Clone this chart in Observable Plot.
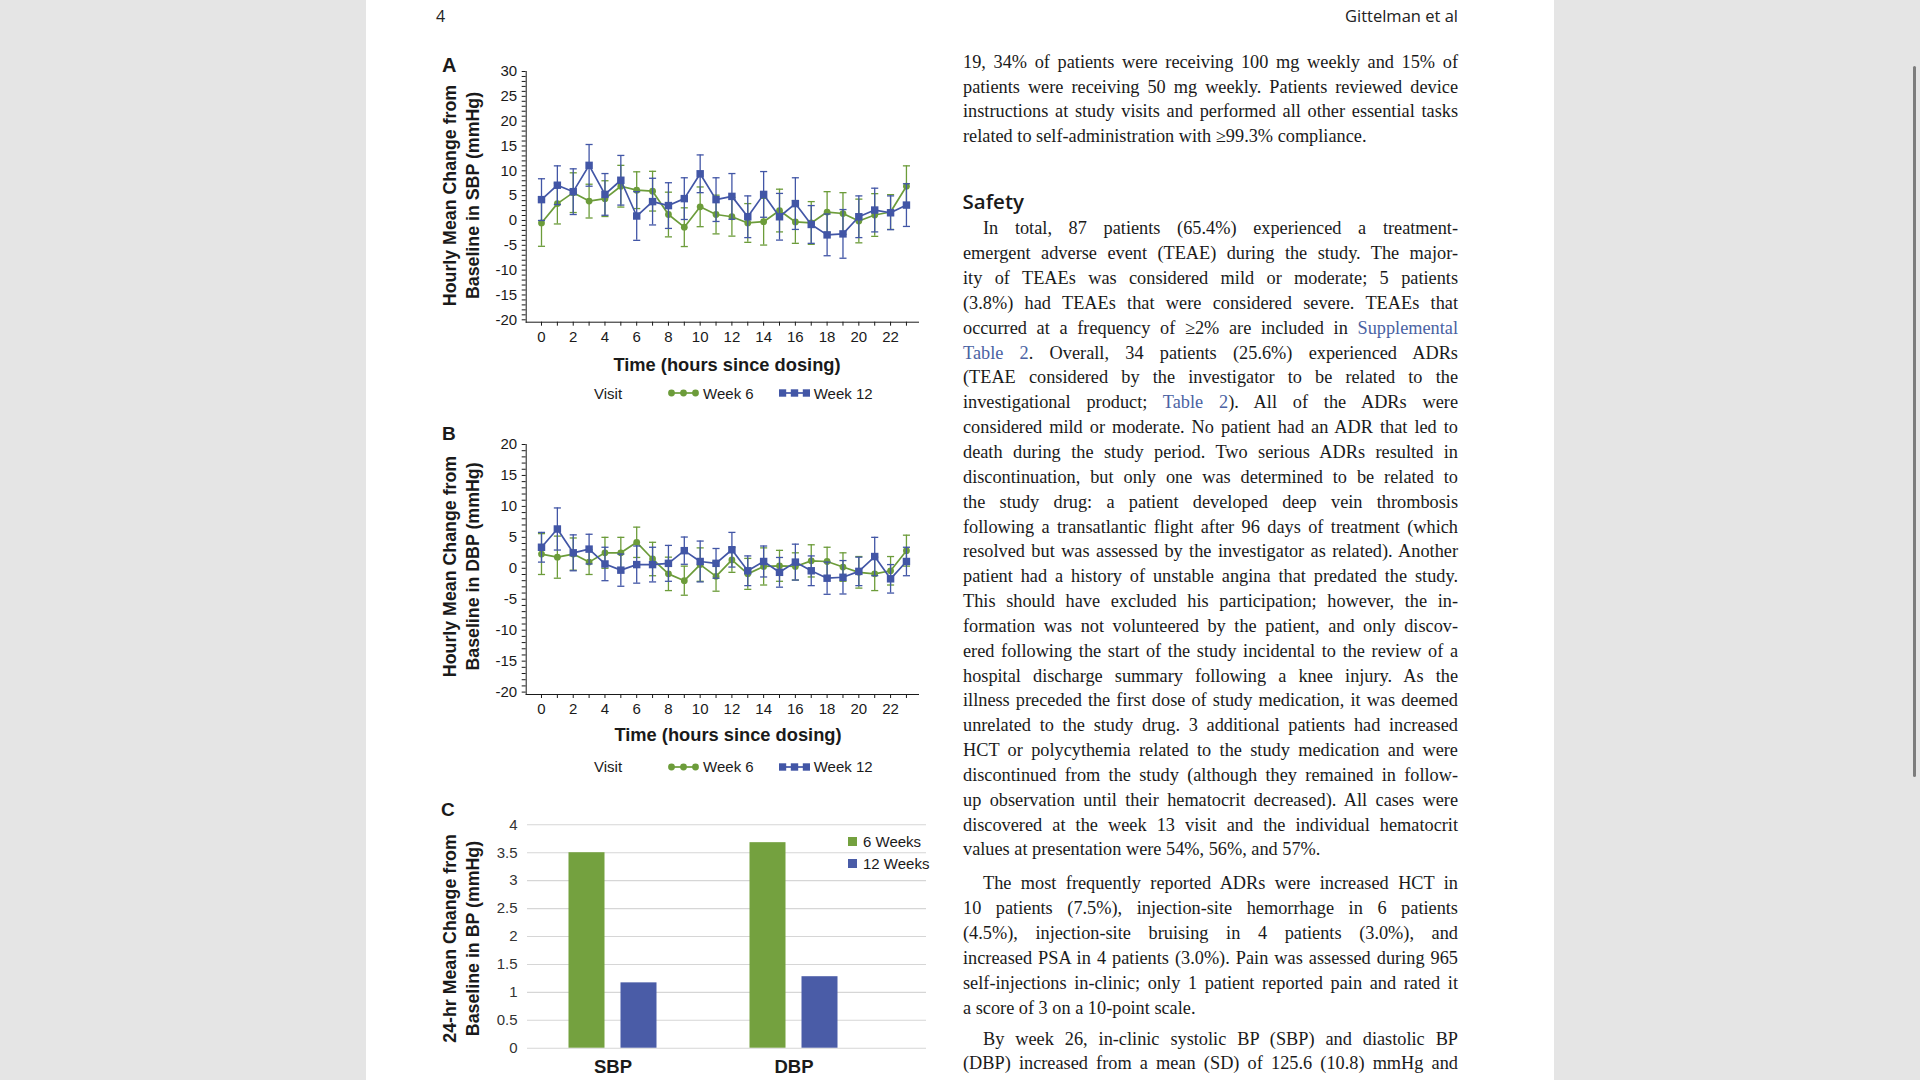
<!DOCTYPE html>
<html>
<head>
<meta charset="utf-8">
<script src="https://cdn.jsdelivr.net/npm/d3@7"></script>
<script src="https://cdn.jsdelivr.net/npm/@observablehq/plot@0.6"></script>
<style>
html,body{margin:0;padding:0;}
body{width:1920px;height:1080px;background:#e5e5e5;position:relative;overflow:hidden;font-family:"Liberation Sans",Arial,sans-serif;color:#1a1a1a;}
#page{position:absolute;left:366px;top:0;width:1188px;height:1080px;background:#fff;}
#scroll{position:absolute;left:1913px;top:66px;width:3px;height:711px;background:#7d7d7d;border-radius:1.5px;}
.abs{position:absolute;white-space:nowrap;line-height:1;}
.hdr{font-family:"Open Sans",sans-serif;color:#222;}
.letter{font-weight:bold;font-size:19px;}
.ytitle{position:absolute;width:300px;height:45px;text-align:center;font-weight:bold;font-size:17.8px;line-height:22.5px;transform:rotate(-90deg);white-space:nowrap;}
.xtitle{position:absolute;width:300px;text-align:center;font-weight:bold;font-size:18.3px;line-height:1;}
.leg{position:absolute;font-size:15px;line-height:1;white-space:nowrap;display:flex;align-items:center;}
.leg svg{display:block;}
.col{position:absolute;left:963px;width:495px;font-family:"Liberation Serif","Times New Roman",serif;font-size:18.3px;line-height:24.85px;color:#1a1a1a;}
.col div{text-align:justify;text-align-last:justify;}
.col div.l{text-align:left;text-align-last:left;}
.col div.i{text-indent:20px;}
.col a{color:#4a62a3;text-decoration:none;}
.plot{position:absolute;}
#cfg svg text{font-weight:bold;font-size:18.5px;}
</style>
</head>
<body>
<div id="page"></div>
<div id="scroll"></div>

<div class="abs hdr" style="left:436px;top:7.5px;font-size:16px;">4</div>
<div class="abs hdr" style="right:462px;top:8px;font-size:16.5px;">Gittelman et al</div>

<div class="abs letter" style="left:442px;top:55px;font-size:20px;">A</div>
<div class="abs letter" style="left:442px;top:424px;">B</div>
<div class="abs letter" style="left:441px;top:800px;">C</div>

<div class="ytitle" style="left:311px;top:172.5px;">Hourly Mean Change from<br>Baseline in SBP (mmHg)</div>
<div class="ytitle" style="left:311px;top:544px;">Hourly Mean Change from<br>Baseline in DBP (mmHg)</div>
<div class="ytitle" style="left:311px;top:916px;">24-hr Mean Change from<br>Baseline in BP (mmHg)</div>

<div class="xtitle" style="left:577px;top:355.5px;">Time (hours since dosing)</div>
<div class="xtitle" style="left:578px;top:725.5px;">Time (hours since dosing)</div>

<div class="col" style="top:49.7px;">
<div>19, 34% of patients were receiving 100 mg weekly and 15% of</div>
<div>patients were receiving 50 mg weekly. Patients reviewed device</div>
<div>instructions at study visits and performed all other essential tasks</div>
<div class="l">related to self-administration with ≥99.3% compliance.</div>
</div>

<div class="abs" style="left:962.5px;top:191px;font-family:'Open Sans',sans-serif;font-weight:600;font-size:20.5px;color:#1a1a1a;">Safety</div>

<div class="col" style="top:216.4px;">
<div class="i">In total, 87 patients (65.4%) experienced a treatment-</div>
<div>emergent adverse event (TEAE) during the study. The major-</div>
<div>ity of TEAEs was considered mild or moderate; 5 patients</div>
<div>(3.8%) had TEAEs that were considered severe. TEAEs that</div>
<div>occurred at a frequency of ≥2% are included in <a>Supplemental</a></div>
<div><a>Table 2</a>. Overall, 34 patients (25.6%) experienced ADRs</div>
<div>(TEAE considered by the investigator to be related to the</div>
<div>investigational product; <a>Table 2</a>). All of the ADRs were</div>
<div>considered mild or moderate. No patient had an ADR that led to</div>
<div>death during the study period. Two serious ADRs resulted in</div>
<div>discontinuation, but only one was determined to be related to</div>
<div>the study drug: a patient developed deep vein thrombosis</div>
<div>following a transatlantic flight after 96 days of treatment (which</div>
<div>resolved but was assessed by the investigator as related). Another</div>
<div>patient had a history of unstable angina that predated the study.</div>
<div>This should have excluded his participation; however, the in-</div>
<div>formation was not volunteered by the patient, and only discov-</div>
<div>ered following the start of the study incidental to the review of a</div>
<div>hospital discharge summary following a knee injury. As the</div>
<div>illness preceded the first dose of study medication, it was deemed</div>
<div>unrelated to the study drug. 3 additional patients had increased</div>
<div>HCT or polycythemia related to the study medication and were</div>
<div>discontinued from the study (although they remained in follow-</div>
<div>up observation until their hematocrit decreased). All cases were</div>
<div>discovered at the week 13 visit and the individual hematocrit</div>
<div class="l">values at presentation were 54%, 56%, and 57%.</div>
</div>

<div class="col" style="top:871.4px;">
<div class="i">The most frequently reported ADRs were increased HCT in</div>
<div>10 patients (7.5%), injection-site hemorrhage in 6 patients</div>
<div>(4.5%), injection-site bruising in 4 patients (3.0%), and</div>
<div>increased PSA in 4 patients (3.0%). Pain was assessed during 965</div>
<div>self-injections in-clinic; only 1 patient reported pain and rated it</div>
<div class="l">a score of 3 on a 10-point scale.</div>
</div>

<div class="col" style="top:1026.5px;">
<div class="i">By week 26, in-clinic systolic BP (SBP) and diastolic BP</div>
<div>(DBP) increased from a mean (SD) of 125.6 (10.8) mmHg and</div>
</div>

<div id="pa" class="plot" style="left:440px;top:60px;"></div>
<div id="pb" class="plot" style="left:440px;top:430px;"></div>
<div id="cbg" class="plot" style="left:440px;top:810px;"></div>
<div id="cfg" class="plot" style="left:440px;top:810px;"></div>

<div id="legA" class="leg" style="left:594px;top:385.5px;"></div>
<div id="legB" class="leg" style="left:594px;top:759px;"></div>
<div id="legC" class="leg" style="left:848px;top:830px;flex-direction:column;align-items:flex-start;"></div>

<script>
// ---------- data ----------
const hours = [0,1,2,3,4,5,6,7,8,9,10,11,12,13,14,15,16,17,18,19,20,21,22,23];

// Panel A: hourly mean change in SBP (mmHg) and error-bar half-widths
const sbpWeek6Mean  = [-0.5, 3.4, 5.6, 3.9, 4.4, 6.9, 6.1, 5.9, 1.2, -1.35, 2.75, 1.2, 0.75, -0.5, -0.25, 2.0, -0.3, -0.5, 1.7, 1.4, -0.1, 1.1, 1.7, 6.9];
const sbpWeek6Err   = [4.7, 4.1, 4.0, 3.4, 3.6, 4.2, 3.7, 4.0, 4.5, 3.9, 4.0, 3.9, 3.9, 3.9, 4.7, 4.3, 4.3, 4.3, 4.1, 4.2, 4.4, 4.3, 3.5, 4.1];
const sbpWeek12Mean = [4.2, 7.1, 5.8, 11.1, 5.25, 8.1, 0.9, 3.8, 3.0, 4.4, 9.4, 4.2, 4.85, 0.75, 5.25, 0.75, 3.4, -0.8, -2.9, -2.7, 0.75, 2.1, 1.55, 3.1];
const sbpWeek12Err  = [4.2, 3.9, 4.6, 4.2, 4.2, 5.0, 4.9, 4.7, 4.6, 4.2, 3.8, 4.4, 4.6, 4.2, 4.6, 4.7, 5.2, 3.8, 4.2, 4.9, 4.2, 4.4, 3.4, 4.3];

// Panel B: hourly mean change in DBP (mmHg)
const dbpWeek6Mean  = [2.3, 1.8, 2.3, 1.0, 2.5, 2.5, 4.2, 1.5, -0.9, -2.0, 0.6, -1.3, 1.35, -0.9, 0.3, 0.4, 0.3, 1.2, 1.1, 0.2, -0.65, -0.9, -0.4, 2.85];
const dbpWeek6Err   = [3.3, 3.4, 2.6, 2.0, 2.5, 2.5, 2.45, 2.7, 2.7, 2.35, 2.7, 2.4, 2.0, 2.5, 3.0, 2.5, 2.2, 2.6, 2.3, 2.3, 2.55, 2.7, 2.3, 2.5];
const dbpWeek12Mean = [3.4, 6.35, 2.5, 3.1, 0.7, -0.3, 0.6, 0.6, 0.8, 2.85, 1.1, 0.8, 3.0, -0.4, 1.1, -0.65, 1.0, -0.4, -1.6, -1.45, -0.5, 1.9, -1.7, 1.1];
const dbpWeek12Err  = [2.4, 3.4, 2.9, 2.4, 2.7, 2.6, 3.0, 2.8, 2.9, 2.2, 3.3, 2.4, 2.8, 2.4, 2.5, 2.4, 2.9, 2.4, 2.6, 2.7, 2.3, 3.1, 2.3, 2.3];

// Panel C: 24-hr mean change from baseline
const bpTypes = ["SBP", "DBP"];
const visitsC = ["6 Weeks", "12 Weeks"];
const change6Weeks  = [3.50, 3.68];
const change12Weeks = [1.17, 1.28];

// tick labels
const xTickLabels = [0,2,4,6,8,10,12,14,16,18,20,22];
const yTickLabelsA = [-20,-15,-10,-5,0,5,10,15,20,25,30];
const yTickLabelsB = [-20,-15,-10,-5,0,5,10,15,20];
const yTickLabelsC = [0,0.5,1,1.5,2,2.5,3,3.5,4];

// ---------- styling ----------
const GREEN = "#6c9c3a", BLUE = "#4256a6";
const BAR_GREEN = "#74a13f", BAR_BLUE = "#4a5ca7";
const baseStyle = {fontFamily: "'Liberation Sans', Arial, sans-serif", fontSize: "15px", color: "#1a1a1a", background: "none", overflow: "visible"};

// horizontal cap symbol for error bars
const capSymbol = {draw(ctx, size) { const w = Math.sqrt(size); ctx.moveTo(-w / 2, 0); ctx.lineTo(w / 2, 0); }};

function rows(means, errs) {
  return hours.map((h, i) => ({hour: h, mean: means[i], lo: means[i] - errs[i], hi: means[i] + errs[i]}));
}

function seriesMarks(data, color, symbol, r) {
  return [
    Plot.ruleX(data, {x: "hour", y1: "lo", y2: "hi", stroke: color, strokeWidth: 1.3}),
    Plot.dot(data, {x: "hour", y: "lo", symbol: capSymbol, r: 4, stroke: color, strokeWidth: 1.3}),
    Plot.dot(data, {x: "hour", y: "hi", symbol: capSymbol, r: 4, stroke: color, strokeWidth: 1.3}),
    Plot.line(data, {x: "hour", y: "mean", stroke: color, strokeWidth: 1.7}),
    Plot.dot(data, {x: "hour", y: "mean", symbol, r, fill: color})
  ];
}

function linePanel(opts) {
  const [y0, y1] = opts.yDomain;
  const minor = d3.range(y0, y1 + 1);
  return Plot.plot({
    width: 500, height: 290,
    marginLeft: 85.7, marginRight: 22, marginTop: opts.marginTop, marginBottom: opts.marginBottom,
    style: baseStyle,
    x: {domain: [-0.964, 23.76], ticks: hours, tickFormat: d => xTickLabels.includes(d) ? String(d) : "", tickSize: 4, tickPadding: 5, line: true, label: null},
    y: {domain: opts.yDomain, ticks: minor, tickFormat: d => opts.yLabels.includes(d) ? String(d) : "", tickSize: 4, tickPadding: 5, line: true, label: null, insetBottom: 2.4},
    marks: [
      ...seriesMarks(rows(opts.w6m, opts.w6e), GREEN, "circle", 3.4),
      ...seriesMarks(rows(opts.w12m, opts.w12e), BLUE, "square", 4.2)
    ]
  });
}

document.getElementById("pa").append(linePanel({
  yDomain: [-20, 30], yLabels: yTickLabelsA, marginTop: 11, marginBottom: 28.3,
  w6m: sbpWeek6Mean, w6e: sbpWeek6Err, w12m: sbpWeek12Mean, w12e: sbpWeek12Err
}));
document.getElementById("pb").append(linePanel({
  yDomain: [-20, 20], yLabels: yTickLabelsB, marginTop: 14, marginBottom: 26,
  w6m: dbpWeek6Mean, w6e: dbpWeek6Err, w12m: dbpWeek12Mean, w12e: dbpWeek12Err
}));

// Panel C: gridlines + y axis
document.getElementById("cbg").append(Plot.plot({
  width: 500, height: 270, marginLeft: 87, marginRight: 14, marginTop: 14.3, marginBottom: 32.3,
  style: {...baseStyle, fontSize: "15px", color: "#333"},
  y: {domain: [0, 4], ticks: yTickLabelsC, tickFormat: d => String(d), tickSize: 0, tickPadding: 10, label: null},
  marks: [Plot.ruleY(yTickLabelsC, {stroke: "#d6d6d6", strokeWidth: 1.1})]
}));

// Panel C: bars
const cRows = bpTypes.flatMap((bp, i) => [
  {bp, visit: visitsC[0], value: change6Weeks[i]},
  {bp, visit: visitsC[1], value: change12Weeks[i]}
]);
document.getElementById("cfg").append(Plot.plot({
  width: 500, height: 270, marginLeft: 81.5, marginRight: 56.5, marginTop: 14.3, marginBottom: 32.3,
  style: {...baseStyle, color: "#1a1a1a"},
  fx: {domain: bpTypes, padding: 0, label: null, tickSize: 0, tickPadding: 12, axis: "bottom"},
  x: {domain: visitsC, paddingInner: 0.3077, paddingOuter: 0.894, axis: null},
  y: {domain: [0, 4], axis: null},
  color: {domain: visitsC, range: [BAR_GREEN, BAR_BLUE]},
  marks: [Plot.barY(cRows, {fx: "bp", x: "visit", y: "value", fill: "visit"})]
}));

// ---------- legends ----------
function lineSwatch(color, shape) {
  const ns = "http://www.w3.org/2000/svg";
  const svg = document.createElementNS(ns, "svg");
  svg.setAttribute("width", 31); svg.setAttribute("height", 10);
  const ln = document.createElementNS(ns, "line");
  ln.setAttribute("x1", 3); ln.setAttribute("x2", 28); ln.setAttribute("y1", 5); ln.setAttribute("y2", 5);
  ln.setAttribute("stroke", color); ln.setAttribute("stroke-width", 1.7);
  svg.append(ln);
  [3.5, 15.5, 27.5].forEach(cx => {
    let s;
    if (shape === "circle") {
      s = document.createElementNS(ns, "circle");
      s.setAttribute("cx", cx); s.setAttribute("cy", 5); s.setAttribute("r", 3.4);
    } else {
      s = document.createElementNS(ns, "rect");
      s.setAttribute("x", cx - 3.7); s.setAttribute("y", 1.3); s.setAttribute("width", 7.4); s.setAttribute("height", 7.4);
    }
    s.setAttribute("fill", color);
    svg.append(s);
  });
  return svg;
}
function buildLineLegend(id) {
  const el = document.getElementById(id);
  const visit = document.createElement("span"); visit.textContent = "Visit"; visit.style.marginRight = "46px";
  const s6 = lineSwatch(GREEN, "circle"); s6.style.marginRight = "4px";
  const t6 = document.createElement("span"); t6.textContent = "Week 6"; t6.style.marginRight = "25px";
  const s12 = lineSwatch(BLUE, "square"); s12.style.marginRight = "4px";
  const t12 = document.createElement("span"); t12.textContent = "Week 12";
  el.append(visit, s6, t6, s12, t12);
}
buildLineLegend("legA");
buildLineLegend("legB");

(function () {
  const el = document.getElementById("legC");
  [[visitsC[0], BAR_GREEN], [visitsC[1], BAR_BLUE]].forEach(([label, color]) => {
    const row = document.createElement("div");
    row.style.display = "flex"; row.style.alignItems = "center"; row.style.height = "22px";
    const sw = document.createElement("span");
    sw.style.cssText = `display:inline-block;width:9px;height:9px;background:${color};margin-right:6px;`;
    const t = document.createElement("span"); t.textContent = label; t.style.fontSize = "15px";
    row.append(sw, t);
    el.append(row);
  });
})();
</script>
</body>
</html>
